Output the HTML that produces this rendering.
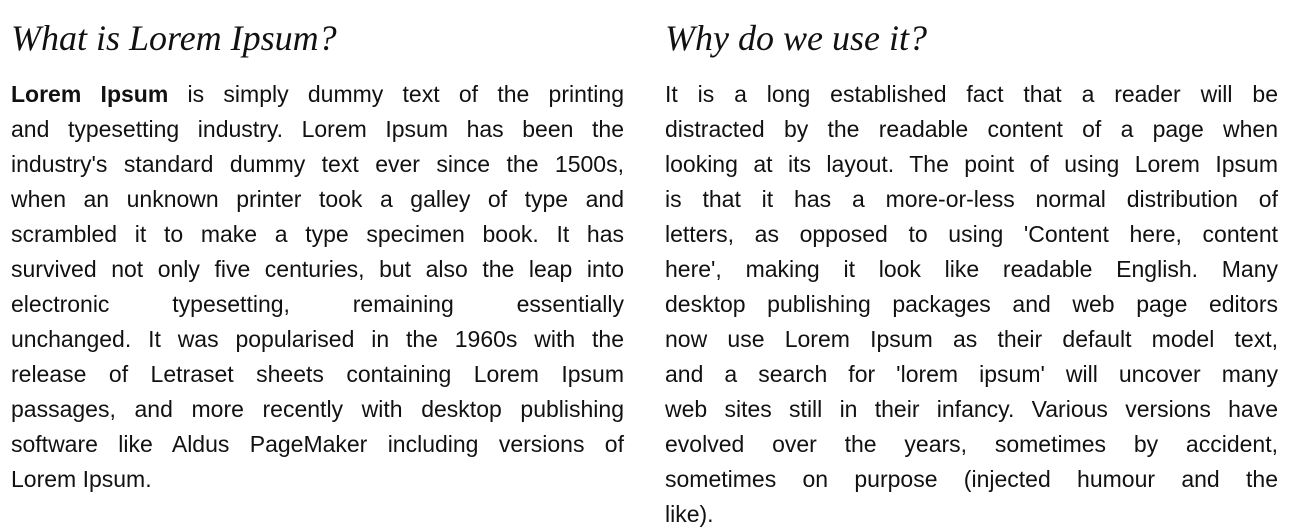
<!DOCTYPE html>
<html>
<head>
<meta charset="utf-8">
<style>
html,body{margin:0;padding:0;background:#fff;width:1289px;height:525px;overflow:hidden;}
.col{position:absolute;top:0;width:613px;}
#left{left:11px;}
#right{left:665px;}
h2{margin:0;position:absolute;top:15px;left:0;font-family:"Liberation Serif",serif;font-style:italic;font-weight:normal;font-size:36px;line-height:46px;color:#111;white-space:nowrap;}
.body{position:absolute;top:77px;left:0;width:613px;font-family:"Liberation Sans",sans-serif;font-size:23px;color:#111;}
.l{height:35px;line-height:35px;text-align:justify;text-align-last:justify;white-space:nowrap;}
.last{text-align-last:left;}
</style>
</head>
<body>
<div id="left" class="col">
<h2>What is Lorem Ipsum?</h2>
<div class="body">
<div class="l"><b>Lorem Ipsum</b> is simply dummy text of the printing</div>
<div class="l">and typesetting industry. Lorem Ipsum has been the</div>
<div class="l">industry's standard dummy text ever since the 1500s,</div>
<div class="l">when an unknown printer took a galley of type and</div>
<div class="l">scrambled it to make a type specimen book. It has</div>
<div class="l">survived not only five centuries, but also the leap into</div>
<div class="l">electronic typesetting, remaining essentially</div>
<div class="l">unchanged. It was popularised in the 1960s with the</div>
<div class="l">release of Letraset sheets containing Lorem Ipsum</div>
<div class="l">passages, and more recently with desktop publishing</div>
<div class="l">software like Aldus PageMaker including versions of</div>
<div class="l last">Lorem Ipsum.</div>
</div>
</div>
<div id="right" class="col">
<h2>Why do we use it?</h2>
<div class="body">
<div class="l">It is a long established fact that a reader will be</div>
<div class="l">distracted by the readable content of a page when</div>
<div class="l">looking at its layout. The point of using Lorem Ipsum</div>
<div class="l">is that it has a more-or-less normal distribution of</div>
<div class="l">letters, as opposed to using 'Content here, content</div>
<div class="l">here', making it look like readable English. Many</div>
<div class="l">desktop publishing packages and web page editors</div>
<div class="l">now use Lorem Ipsum as their default model text,</div>
<div class="l">and a search for 'lorem ipsum' will uncover many</div>
<div class="l">web sites still in their infancy. Various versions have</div>
<div class="l">evolved over the years, sometimes by accident,</div>
<div class="l">sometimes on purpose (injected humour and the</div>
<div class="l last">like).</div>
</div>
</div>
</body>
</html>
